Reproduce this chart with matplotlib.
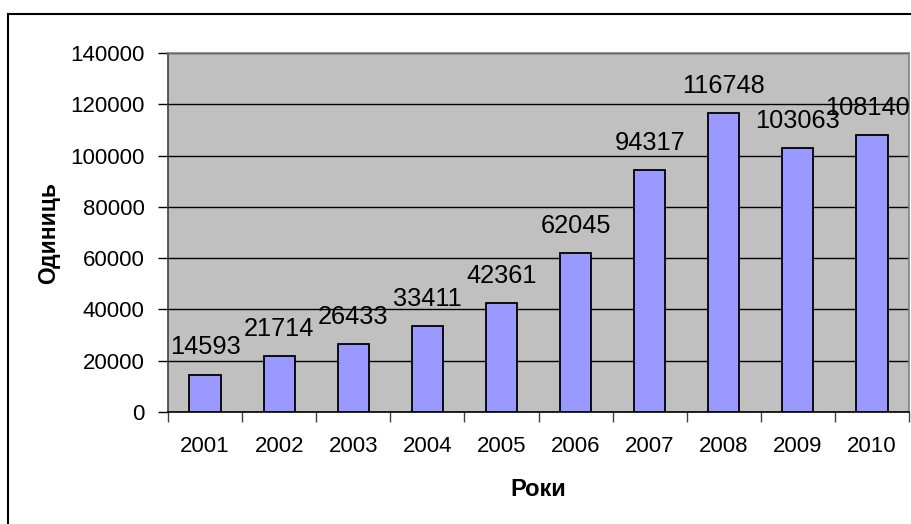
import matplotlib.pyplot as plt
from matplotlib.patches import Rectangle

# Daten
roky = ['2001', '2002', '2003', '2004', '2005', '2006', '2007', '2008', '2009', '2010']
odynyts = [14593, 21714, 26433, 33411, 42361, 62045, 94317, 116748, 103063, 108140]
y_ticks = [0, 20000, 40000, 60000, 80000, 100000, 120000, 140000]

plt.rcParams['font.family'] = ['Liberation Sans', 'DejaVu Sans']

fig = plt.figure(figsize=(9.12, 5.24), dpi=100)
ax = fig.add_axes([168 / 912, 1 - 412 / 524, 741 / 912, 359 / 524])

# Rahmen um die ganze Grafik (rechts und unten abgeschnitten)
fig.patches.append(Rectangle((8 / 912, -0.1), 1.2, 0.1 + (524 - 14) / 524,
                             transform=fig.transFigure, fill=False,
                             edgecolor='black', linewidth=1.5))

ax.set_facecolor('#c0c0c0')
x = list(range(len(roky)))
ax.bar(x, odynyts, width=0.42, color='#9999ff', edgecolor='black', linewidth=1.3, zorder=3)

# Beschriftungen ueber den Balken, die letzte etwas nach links, damit sie ins Bild passt
for xi, v in zip(x, odynyts):
    dx = -3 if xi == len(roky) - 1 else 0
    ax.annotate(str(v), (xi, v), xytext=(dx, 19.5), textcoords='offset points',
                ha='center', va='center', fontsize=18.3, zorder=4, annotation_clip=False)

ax.set_xlim(-0.5, len(roky) - 0.5)
ax.set_ylim(0, 140000)
ax.set_yticks(y_ticks)
ax.set_yticklabels([str(t) for t in y_ticks], fontsize=16)
ax.yaxis.grid(True, color='black', linewidth=1)
ax.set_axisbelow(True)

ax.set_xticks(x)
ax.set_xticklabels(roky, fontsize=16)
ax.set_xticks([i - 0.5 for i in range(len(roky) + 1)], minor=True)
ax.tick_params(axis='x', which='major', length=0, pad=17)
ax.tick_params(axis='x', which='minor', length=7, color='#404040', width=1)
ax.tick_params(axis='y', length=7, width=1, pad=10)

ax.spines['top'].set_color('#808080')
ax.spines['right'].set_color('#808080')
ax.spines['left'].set_color('#404040')
ax.spines['bottom'].set_color('black')
for s in ax.spines.values():
    s.set_linewidth(1.2)

ax.set_xlabel('Роки', fontsize=17, fontweight='bold', labelpad=15.5)
ax.set_ylabel('Одиниць', fontsize=16.5, fontweight='bold', labelpad=7)

fig.savefig('out.png', dpi=100)
